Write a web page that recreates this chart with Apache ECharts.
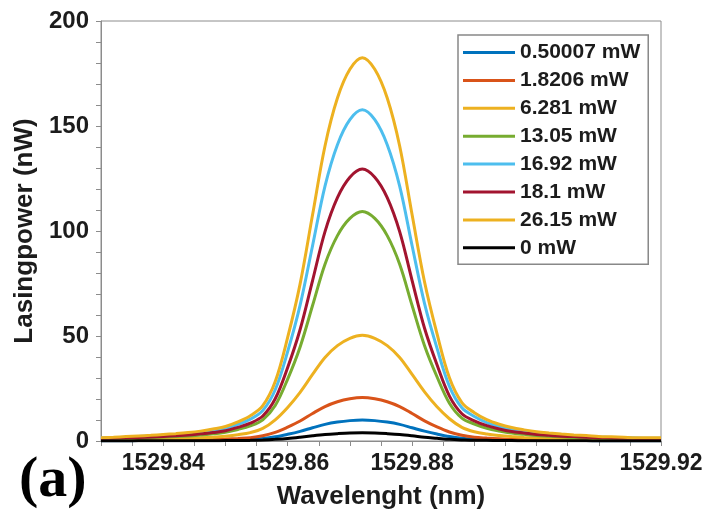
<!DOCTYPE html>
<html>
<head>
<meta charset="utf-8">
<script src="https://cdn.jsdelivr.net/npm/echarts@6/dist/echarts.min.js"></script>
<style>
  html, body { margin: 0; padding: 0; background: #ffffff; }
  #chart { width: 706px; height: 521px; }
</style>
</head>
<body>
<div id="chart"></div>
<script>
// Wavelength samples (nm), 0.002 nm steps across the window
const wavelengths = [
  1529.830, 1529.832, 1529.834, 1529.836, 1529.838, 1529.840, 1529.842, 1529.844,
  1529.846, 1529.848, 1529.850, 1529.852, 1529.854, 1529.856, 1529.858, 1529.860,
  1529.862, 1529.864, 1529.866, 1529.868, 1529.870, 1529.872, 1529.874, 1529.876,
  1529.878, 1529.880, 1529.882, 1529.884, 1529.886, 1529.888, 1529.890, 1529.892,
  1529.894, 1529.896, 1529.898, 1529.900, 1529.902, 1529.904, 1529.906, 1529.908,
  1529.910, 1529.912, 1529.914, 1529.916, 1529.918, 1529.920
];

// Pump power labels
const pumpLabels = ['0.50007 mW', '1.8206 mW', '6.281 mW', '13.05 mW', '16.92 mW', '18.1 mW', '26.15 mW', '0 mW'];

// Lasing power (nW) for each pump power
const p0_50007 = [0.1,0.1,0.1,0.2,0.2,0.2,0.2,0.3,0.3,0.4,0.5,0.6,0.8,1.2,2.0,3.2,4.6,6.3,7.9,9.0,9.7,
  10.0,
  9.7,9.0,7.9,6.3,4.7,3.3,2.1,1.3,0.9,0.7,0.5,0.4,0.3,0.3,0.2,0.2,0.2,0.2,0.1,0.1,0.1,0.1,0.1,0.1];
const p1_8206 = [0.2,0.2,0.3,0.3,0.4,0.4,0.4,0.5,0.6,0.7,0.9,1.2,1.6,2.5,4.1,6.6,9.5,13.1,16.4,18.7,20.1,
  20.7,
  20.1,18.7,16.4,13.1,9.6,6.7,4.3,2.7,1.8,1.4,1.1,0.8,0.7,0.6,0.5,0.4,0.4,0.3,0.3,0.3,0.2,0.2,0.2,0.2];
const p6_281 = [0.5,0.6,0.7,0.8,0.9,1.0,1.1,1.3,1.5,1.8,2.3,3.0,4.0,6.0,10.1,16.0,23.2,31.7,39.8,45.4,48.9,
  50.3,
  48.9,45.4,39.8,31.7,23.4,16.3,10.6,6.5,4.4,3.3,2.6,2.1,1.7,1.4,1.2,1.1,0.9,0.8,0.7,0.7,0.6,0.6,0.5,0.5];
const p13_05 = [1.0,1.1,1.3,1.4,1.6,1.9,2.1,2.4,2.8,3.4,4.2,5.5,7.2,10.1,16.9,29.5,44.8,64.5,84.2,97.8,106.0,
  109.3,
  106.0,97.8,84.2,64.5,45.4,30.6,18.0,10.9,8.1,6.1,4.8,3.8,3.2,2.6,2.3,2.0,1.7,1.5,1.3,1.2,1.1,1.0,0.9,0.9];
const p16_92 = [1.4,1.6,1.8,2.1,2.4,2.7,3.0,3.5,4.1,4.9,6.0,7.9,10.4,14.5,24.4,42.6,64.7,93.0,121.4,141.1,153.0,
  157.7,
  153.0,141.1,121.4,93.0,65.4,44.2,26.0,15.8,11.7,8.8,6.9,5.5,4.6,3.8,3.3,2.8,2.5,2.2,1.9,1.7,1.6,1.4,1.3,1.3];
const p18_1 = [1.2,1.3,1.5,1.7,1.9,2.2,2.5,2.8,3.4,4.0,4.9,6.5,8.5,11.9,20.1,35.0,53.1,76.4,99.7,115.9,125.6,
  129.5,
  125.6,115.9,99.7,76.4,53.7,36.3,21.4,13.0,9.6,7.3,5.7,4.5,3.8,3.1,2.7,2.3,2.1,1.8,1.6,1.4,1.3,1.2,1.1,1.0];
const p26_15 = [1.6,1.8,2.1,2.4,2.7,3.1,3.5,4.0,4.7,5.7,6.9,9.1,12.0,16.8,28.3,49.3,74.8,107.7,140.5,163.3,177.0,
  182.5,
  177.0,163.3,140.5,107.7,75.7,51.1,30.1,18.3,13.5,10.2,8.0,6.4,5.3,4.4,3.8,3.3,2.9,2.6,2.2,2.0,1.8,1.6,1.6,1.5];
const p0 = [0,0,0,0.1,0.1,0.1,0.1,0.1,0.1,0.1,0.2,0.2,0.3,0.5,0.8,1.2,1.8,2.5,3.1,3.5,3.8,
  3.9,
  3.8,3.5,3.1,2.5,1.8,1.3,0.8,0.5,0.3,0.3,0.2,0.2,0.1,0.1,0.1,0.1,0.1,0.1,0,0,0,0,0,0];

// Axis tick labels
const xTickLabels = ['1529.84', '1529.86', '1529.88', '1529.9', '1529.92'];
const yTickLabels = ['0', '50', '100', '150', '200'];

const seriesValues = [p0_50007, p1_8206, p6_281, p13_05, p16_92, p18_1, p26_15, p0];
const seriesColors = ['#0072BD', '#D95319', '#EDB120', '#77AC30', '#4DBEEE', '#A2142F', '#EDB120', '#000000'];

const FONT = '"Liberation Sans", Arial, sans-serif';
const TEXT = '#1c1c1c';
const AXIS = '#8c8c8c';

const chart = echarts.init(document.getElementById('chart'), null, { renderer: 'canvas' });

const series = seriesValues.map((vals, i) => ({
  name: pumpLabels[i],
  type: 'line',
  smooth: 0.35,
  showSymbol: false,
  symbol: 'none',
  data: wavelengths.map((w, k) => [w, vals[k]]),
  lineStyle: { color: seriesColors[i], width: 3 },
  itemStyle: { color: seriesColors[i] },
  z: 2 + i
}));

// Only every fourth x tick (0.02 nm) carries a label
function xLabel(v) {
  const s = String(parseFloat(v.toFixed(2)));
  return Math.abs(v * 50 - Math.round(v * 50)) < 1e-4 && xTickLabels.includes(s) ? s : '';
}
function yLabel(v) {
  const s = String(Math.round(v));
  return yTickLabels.includes(s) ? s : '';
}

chart.setOption({
  animation: false,
  backgroundColor: '#ffffff',
  grid: {
    left: 101, right: 45, top: 21, bottom: 80,
    show: true, borderColor: AXIS, borderWidth: 1
  },
  legend: {
    data: pumpLabels,
    orient: 'vertical',
    left: 458, top: 35,
    icon: 'rect',
    itemWidth: 52, itemHeight: 3,
    itemGap: 6.9,
    padding: [7, 8, 6, 5],
    borderColor: '#888888', borderWidth: 1.5,
    backgroundColor: '#ffffff',
    textStyle: { fontFamily: FONT, fontWeight: 'bold', fontSize: 21, color: TEXT, lineHeight: 20.5 }
  },
  xAxis: {
    type: 'value',
    min: 1529.83, max: 1529.92, interval: 0.005,
    name: 'Wavelenght (nm)',
    nameLocation: 'middle', nameGap: 43,
    nameTextStyle: { fontFamily: FONT, fontWeight: 'bold', fontSize: 26, color: TEXT },
    axisLine: { show: true, onZero: false, lineStyle: { color: AXIS, width: 1 } },
    axisTick: { show: true, inside: false, length: 5, lineStyle: { color: AXIS } },
    splitLine: { show: false },
    axisLabel: {
      margin: 11,
      fontFamily: FONT, fontWeight: 'bold', fontSize: 23, color: TEXT,
      formatter: xLabel,
      showMinLabel: true, showMaxLabel: true,
      hideOverlap: false
    }
  },
  yAxis: {
    type: 'value',
    min: 0, max: 200, interval: 50,
    name: 'Lasingpower (nW)',
    nameLocation: 'middle', nameGap: 58,
    nameTextStyle: { fontFamily: FONT, fontWeight: 'bold', fontSize: 26, color: TEXT },
    axisLine: { show: true, lineStyle: { color: AXIS, width: 1 } },
    axisTick: { show: true, inside: false, length: 5, lineStyle: { color: AXIS } },
    minorTick: { show: true, splitNumber: 5, length: 5, lineStyle: { color: AXIS } },
    splitLine: { show: false },
    axisLabel: {
      margin: 12,
      fontFamily: FONT, fontWeight: 'bold', fontSize: 24, color: TEXT,
      formatter: yLabel
    }
  },
  graphic: [{
    type: 'text',
    left: 19, top: 452,
    style: {
      text: '(a)',
      font: 'bold 58px "Liberation Serif", "Times New Roman", serif',
      fill: '#000000'
    }
  }],
  series: series
});
</script>
</body>
</html>
